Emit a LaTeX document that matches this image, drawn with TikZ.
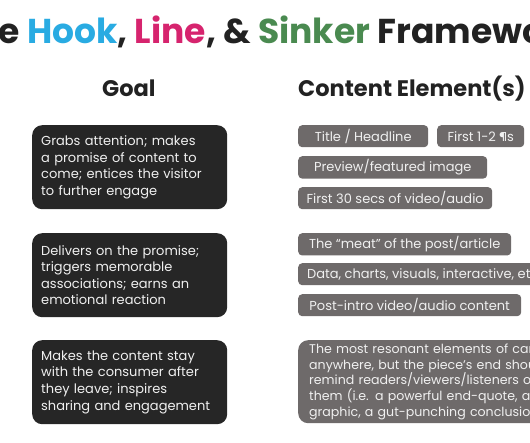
\documentclass[tikz,border=0pt]{standalone}
\usepackage{fontspec}
\setmainfont{Poppins}
\usetikzlibrary{positioning}
\definecolor{hookblue}{HTML}{29ABE2}
\definecolor{linepink}{HTML}{D6246E}
\definecolor{sinkergreen}{HTML}{4A8A50}
\definecolor{ink}{HTML}{222222}
\definecolor{goalbg}{HTML}{262626}
\definecolor{elembg}{HTML}{6E6A6A}
\definecolor{boxtext}{HTML}{F0F0F0}

\begin{document}
\begin{tikzpicture}[x=1pt, y=-1pt,
      goal/.style={fill=goalbg, rounded corners=10pt, anchor=north west,
                   minimum width=195pt, minimum height=84pt,
                   text width=177pt, inner xsep=9pt, align=left,
                   text=boxtext, font=\fontsize{13}{16.6}\selectfont},
      elem/.style={fill=elembg, rounded corners=4pt, anchor=north west,
                   minimum height=22pt, inner xsep=0pt,
                   text=boxtext, font=\fontsize{13}{15}\selectfont},
      sinkbox/.style={fill=elembg, rounded corners=10pt, anchor=north west,
                   minimum height=83pt, text width=300pt, inner xsep=11pt,
                   align=left, text=boxtext,
                   font=\fontsize{12.6}{15.7}\selectfont},
      head/.style={anchor=base west, text=ink,
                   font=\fontsize{22.5}{26}\selectfont\bfseries}
    ]
    \useasboundingbox (0,0) rectangle (530,443);
    \clip (0,0) rectangle (530,443);

    % Titel
    \node[anchor=base west, inner sep=0pt, text=ink,
          font=\fontsize{34.5}{40}\selectfont\bfseries] (title) at (27,44)
      {\llap{The\ }\textcolor{hookblue}{Hook}, \textcolor{linepink}{Line},
       \& \textcolor{sinkergreen}{Sinker} Framework};

    % Spaltenkoepfe
    \node[head, inner sep=0pt] (hgoal) at (102,97) {Goal};
    \node[head, inner sep=0pt] (helem) at (298,97) {Content Element(s)};

    % Ziele (links)
    \node[goal] (g1) at (32,125) {Grabs attention; makes\\a promise of content to\\come; entices the visitor\\to further engage};
    \node[goal] (g2) at (32,233) {Delivers on the promise;\\triggers memorable\\associations; earns an\\emotional reaction};
    \node[goal] (g3) at (32,340) {Makes the content stay\\with the consumer after\\they leave; inspires\\sharing and engagement};

    % Hook
    \node[elem, minimum width=130pt] (e1) at (298,125) {Title / Headline};
    \node[elem, minimum width=87pt]  (e2) at (437,125) {First 1-2 ¶s};
    \node[elem, minimum width=189pt] (e3) at (298,156) {Preview/featured image};
    \node[elem, minimum width=194pt] (e4) at (298,187) {First 30 secs of video/audio};

    % Line
    \node[elem, minimum width=213pt] (e5) at (298,233) {The “meat” of the post/article};
    \node[elem, inner xsep=9pt]      (e6) at (298,263) {Data, charts, visuals, interactive, etc.};
    \node[elem, minimum width=223pt] (e7) at (298,294) {Post-intro video/audio content};

    % Sinker
    \node[sinkbox] (e8) at (298,340) {The most resonant elements of can\\anywhere, but the piece’s end should\\remind readers/viewers/listeners of\\them (i.e. a powerful end-quote, a\\graphic, a gut-punching conclusion)};
  \end{tikzpicture}
\end{document}
